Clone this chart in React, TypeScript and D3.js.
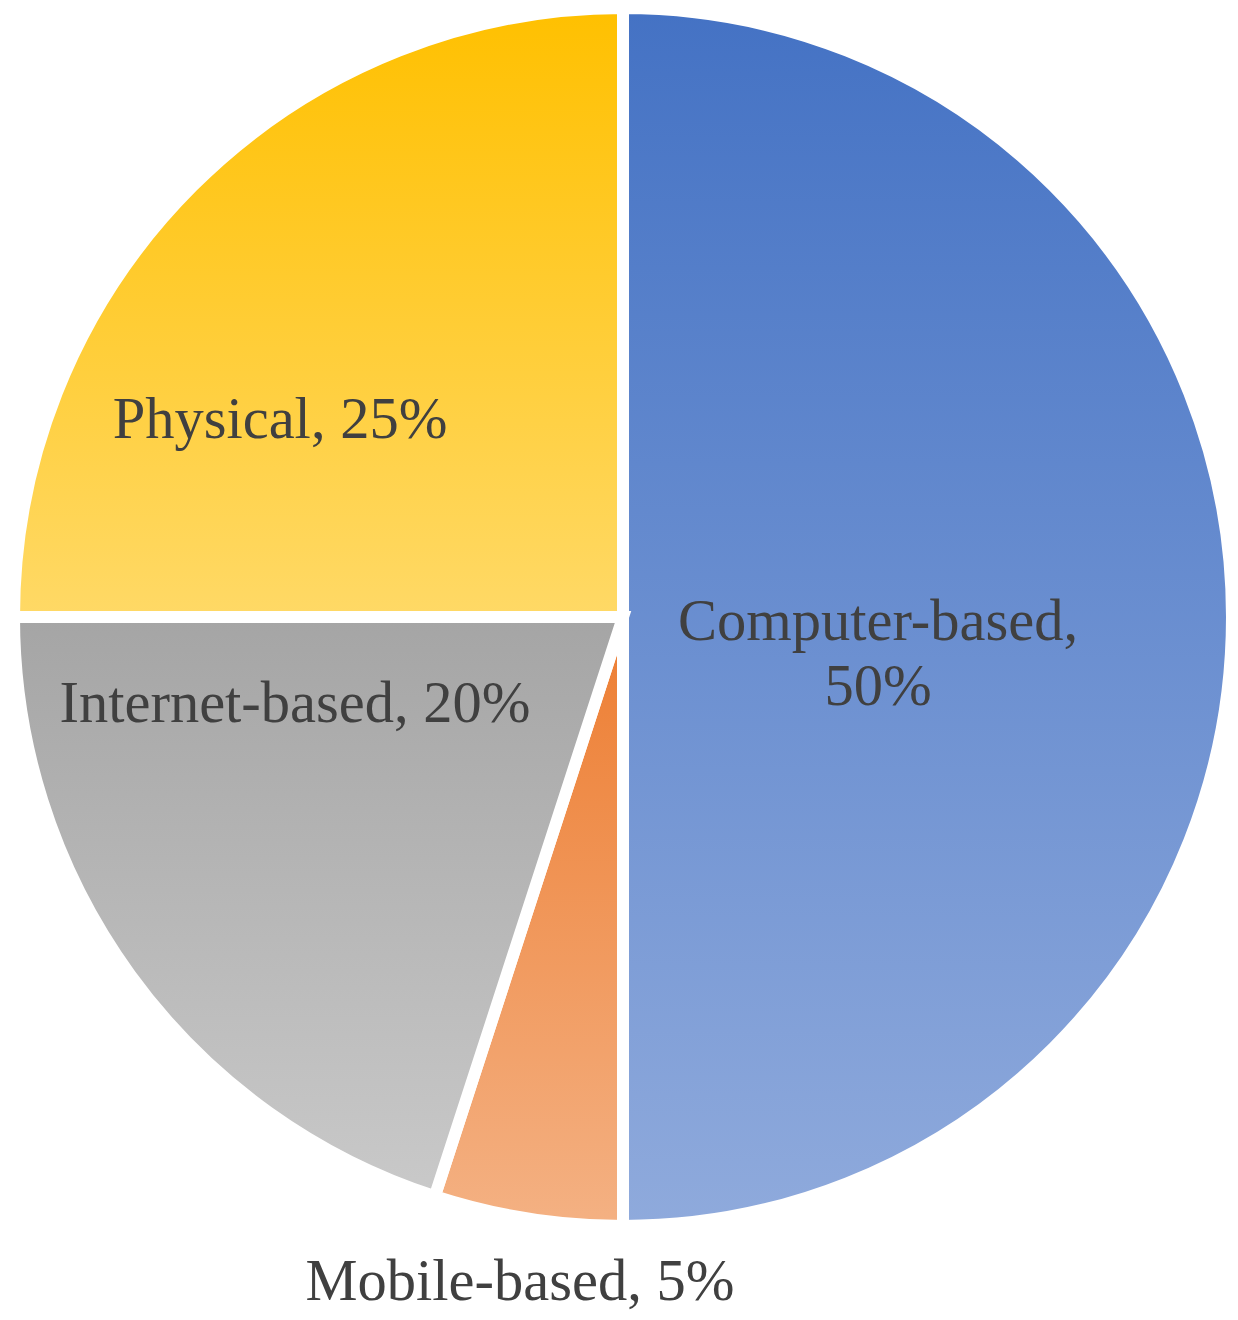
import { useEffect, useRef } from 'react';
import * as d3 from 'd3';

const categories = ['Computer-based', 'Mobile-based', 'Internet-based', 'Physical'];
const shares = [50, 5, 20, 25];
const topColors = ['#4472C4', '#ED7D31', '#A5A5A5', '#FFC000'];
const bottomColors = ['#8FAADC', '#F4B183', '#C9C9C9', '#FFD966'];
// label lines per slice
const labelLines = [
  ['Computer-based,', '50%'],
  ['Mobile-based, 5%'],
  ['Internet-based, 20%'],
  ['Physical, 25%'],
];
// label anchor (x, y of first baseline) relative to the pie centre
const labelPos: [number, number][] = [
  [255, 23],
  [-103, 683],
  [-328, 105],
  [-343, -179],
];

const App = () => {
  const svgRef = useRef<SVGSVGElement>(null);

  useEffect(() => {
    const width = 1238;
    const height = 1320;
    const cx = 623;
    const cy = 617;
    const radius = 609;

    const svg = d3.select(svgRef.current);
    svg.selectAll('*').remove();
    svg.attr('width', width).attr('height', height);

    const data = categories.map((name, i) => ({ name, value: shares[i], i }));

    const defs = svg.append('defs');
    data.forEach(d => {
      const grad = defs.append('linearGradient')
        .attr('id', `grad-${d.i}`)
        .attr('x1', 0).attr('y1', 0)
        .attr('x2', 0).attr('y2', 1);
      grad.append('stop').attr('offset', '0%').attr('stop-color', topColors[d.i]);
      grad.append('stop').attr('offset', '100%').attr('stop-color', bottomColors[d.i]);
    });

    const pie = d3.pie<any>().sort(null).value(d => d.value);
    const arc = d3.arc<any>().innerRadius(0).outerRadius(radius);

    const g = svg.append('g').attr('transform', `translate(${cx},${cy})`);

    g.selectAll('path')
      .data(pie(data))
      .enter()
      .append('path')
      .attr('d', arc)
      .attr('fill', d => `url(#grad-${d.data.i})`)
      .attr('stroke', '#ffffff')
      .attr('stroke-width', 12)
      .attr('stroke-linejoin', 'miter');

    // labels
    const fontSize = 58.5;
    data.forEach(d => {
      const [lx, ly] = labelPos[d.i];
      const t = g.append('text')
        .attr('x', lx)
        .attr('y', ly)
        .attr('text-anchor', 'middle')
        .attr('font-family', '"Liberation Serif", "Times New Roman", serif')
        .attr('font-size', fontSize)
        .attr('fill', '#404040');
      labelLines[d.i].forEach((line, k) => {
        t.append('tspan')
          .attr('x', lx)
          .attr('dy', k === 0 ? 0 : 65)
          .text(line);
      });
    });
  }, []);

  return <svg ref={svgRef} style={{ position: 'absolute', left: 0, top: 0 }} />;
};

export default App;
